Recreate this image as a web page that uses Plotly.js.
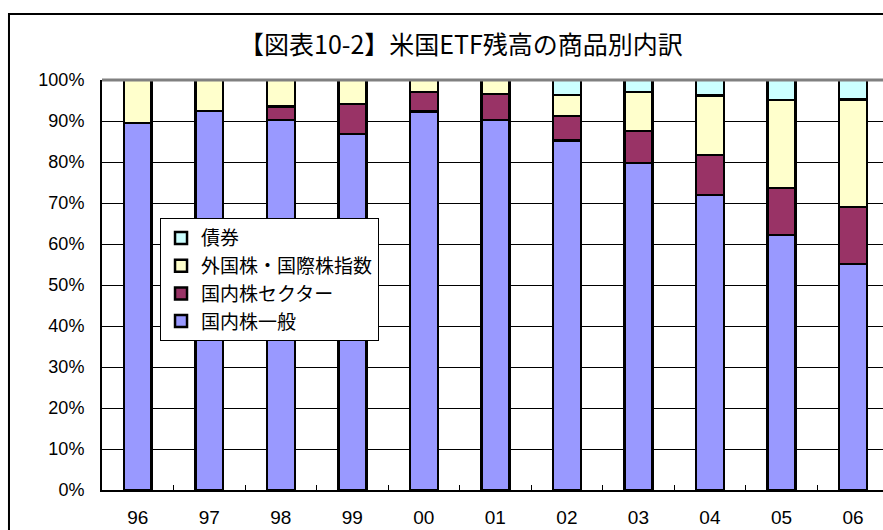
<!DOCTYPE html>
<html>
<head>
<meta charset="utf-8">
<script src="https://cdn.plot.ly/plotly-3.0.1.min.js"></script>
<style>html,body{margin:0;padding:0;background:#fff;}#chart{width:883px;height:530px;}</style>
</head>
<body>
<div id="chart"></div>
<script>
const years = ["96","97","98","99","00","01","02","03","04","05","06"];
const domesticGeneral = [89.5, 92.5, 90.2, 86.8, 92.3, 90.2, 85.2, 79.8, 72.0, 62.2, 55.1];
const domesticSector  = [0, 0, 3.3, 7.3, 4.8, 6.4, 6.0, 7.8, 9.7, 11.4, 13.9];
const foreignIntl     = [10.5, 7.5, 6.5, 5.9, 2.9, 3.4, 5.1, 9.5, 14.5, 21.5, 26.3];
const bonds           = [0, 0, 0, 0, 0, 0, 3.7, 2.9, 3.8, 4.9, 4.7];
const seriesNames = ["国内株一般", "国内株セクター", "外国株・国際株指数", "債券"];
const yTickVals = [0,10,20,30,40,50,60,70,80,90,100];
const yTickText = ["0%","10%","20%","30%","40%","50%","60%","70%","80%","90%","100%"];

const colors = ["#9999FF", "#993366", "#FFFFCC", "#CCFFFF"];
const dataSets = [domesticGeneral, domesticSector, foreignIntl, bonds];
const traces = dataSets.map((vals, i) => ({
  type: "bar",
  name: seriesNames[i],
  x: years,
  y: vals,
  width: 0.39,
  marker: {color: colors[i], line: {color: "#000", width: 2.5}},
  hoverinfo: "none"
}));

const layout = {
  width: 883, height: 530,
  margin: {l: 102, r: 0, t: 80, b: 40},
  paper_bgcolor: "#fff", plot_bgcolor: "#fff",
  barmode: "stack",
  showlegend: true,
  title: {text: "【図表10-2】米国ETF残高の商品別内訳", x: 0.522, xanchor: "center", y: 0.915, yanchor: "middle",
          font: {family: "Noto Sans CJK JP, sans-serif", size: 25, color: "#000", weight: 400}},
  xaxis: {type: "category", range: [-0.5, 10.42], showgrid: false, showline: true, linecolor: "#000", linewidth: 2,
          ticks: "inside", tickson: "boundaries", ticklen: 5, tickcolor: "#000", tickwidth: 1,
          tickfont: {family: "'Liberation Sans Narrow', 'Liberation Sans', Arial, sans-serif", size: 19, color: "#000"},
          ticklabelstandoff: 9, fixedrange: true, zeroline: false},
  yaxis: {range: [0, 100], tickvals: yTickVals, ticktext: yTickText, showgrid: true, gridcolor: "#000", gridwidth: 1,
          showline: true, linecolor: "#000", linewidth: 2, ticks: "inside", ticklen: 7, tickcolor: "#000",
          tickfont: {family: "'Liberation Sans', Arial, sans-serif", size: 18, color: "#000"},
          ticklabelstandoff: 12, zeroline: false, fixedrange: true},
  legend: {x: 0.0743, y: 0.663, xanchor: "left", yanchor: "top", traceorder: "reversed",
           bgcolor: "#fff", bordercolor: "#000", borderwidth: 1, itemwidth: 30,
           font: {family: "Noto Sans CJK JP, sans-serif", size: 19, color: "#000"}},
  shapes: [
    {type: "line", xref: "paper", yref: "paper", x0: 0, x1: 1.02, y0: 1, y1: 1, line: {color: "#808080", width: 3}},
    {type: "rect", xref: "paper", yref: "paper", x0: -0.1191, x1: 1.05, y0: -0.2, y1: 1.161, line: {color: "#000", width: 2}, layer: "above"}
  ]
};

Plotly.newPlot("chart", traces, layout, {displayModeBar: false, staticPlot: true});
</script>
</body>
</html>
